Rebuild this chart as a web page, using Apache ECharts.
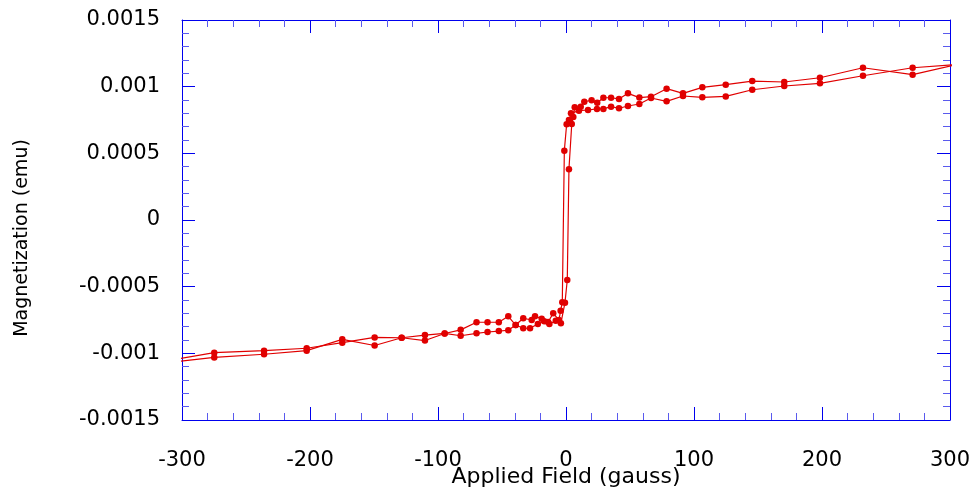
<!DOCTYPE html>
<html>
<head>
<meta charset="utf-8">
<script src="https://cdn.jsdelivr.net/npm/echarts@6/dist/echarts.min.js"></script>
<style>
  html, body { margin: 0; padding: 0; background: #fff; }
  #main { width: 976px; height: 491px; }
</style>
</head>
<body>
<div id="main"></div>
<script>
// descending branch (+300 -> -300 gauss); the end points lie just past the frame and get clipped
const downField = [305, 270.8, 232, 198.4, 170.5, 145.5, 124.8, 106.5, 91.4, 78.6, 66.4, 57.3, 48.4, 41.4, 35.2, 29.2, 24.2, 17.2, 10.1, 3.9, 2.3, 0.5, -1.3, -2.9, -4.2, -5.5, -10, -14, -19, -24.2, -26.8, -33.4, -39.3, -45.1, -52.5, -61.3, -69.9, -82.3, -94.8, -110.2, -128.4, -149.5, -174.8, -202.6, -235.9, -274.8, -305];
const downMoment = [0.001165, 0.001142, 0.001082, 0.001025, 0.001005, 0.000977, 0.000927, 0.00092, 0.00093, 0.00089, 0.000915, 0.00087, 0.000855, 0.000838, 0.00085, 0.000833, 0.000833, 0.000825, 0.00082, 0.0008, 0.00075, 0.000718, 0.00052, -0.000617, -0.00068, -0.00075, -0.0007, -0.000765, -0.00074, -0.000722, -0.00075, -0.000737, -0.000788, -0.000722, -0.000767, -0.000767, -0.000767, -0.000824, -0.000851, -0.000863, -0.000883, -0.000941, -0.000895, -0.00098, -0.001007, -0.001031, -0.001062];

// ascending branch (-300 -> +300 gauss)
const upField = [-305, -274.8, -235.9, -202.6, -174.8, -149.5, -128.4, -110.2, -94.8, -82.3, -69.9, -61.3, -52.5, -45.1, -39.3, -33.4, -28.1, -22, -17, -13, -8, -4, -0.8, 1.0, 2.3, 4.5, 5.7, 6.8, 11.5, 14.3, 20, 24.4, 29.2, 35.2, 41.4, 48.4, 57.3, 66.4, 78.6, 91.4, 106.5, 124.8, 145.5, 170.5, 198.4, 232, 270.8, 305];
const upMoment = [-0.001045, -0.000995, -0.00098, -0.000962, -0.00092, -0.000881, -0.000883, -0.000904, -0.000851, -0.000868, -0.00085, -0.00084, -0.000833, -0.000827, -0.000788, -0.000812, -0.000812, -0.00078, -0.00076, -0.00078, -0.000755, -0.000775, -0.00062, -0.00045, 0.00038, 0.00072, 0.000773, 0.000845, 0.00085, 0.000887, 0.000898, 0.00088, 0.000917, 0.000917, 0.000908, 0.00095, 0.000918, 0.000925, 0.000985, 0.00095, 0.000995, 0.001015, 0.001042, 0.001035, 0.001067, 0.001142, 0.00109, 0.001165];

const xRange = [-300, 300];
const yRange = [-0.0015, 0.0015];

const axisBlue = '#0000ee';
const lineRed = '#e00000';
const font = 'DejaVu Sans';

const zip = (xs, ys) => xs.map((x, i) => [x, ys[i]]);

const chartDom = document.getElementById('main');
const myChart = echarts.init(chartDom, null, { renderer: 'canvas' });

// shared look for the boxed frame: ticks pointing in, blue
const frame = {
    axisLine: { show: true, onZero: false, lineStyle: { color: axisBlue, width: 1 } },
    axisTick: { show: true, inside: true, length: 13, lineStyle: { color: axisBlue, width: 1 } },
    minorTick: { show: true, splitNumber: 5, length: 7, lineStyle: { color: '#5a5aee', width: 1 } },
    splitLine: { show: false },
    minorSplitLine: { show: false }
};

const option = {
    animation: false,
    backgroundColor: '#fff',
    grid: { left: 182, right: 26, top: 20, bottom: 71, containLabel: false, outerBoundsMode: 'none' },
    xAxis: [
        {
            type: 'value', position: 'bottom',
            min: xRange[0], max: xRange[1], interval: 100,
            name: 'Applied Field (gauss)',
            nameLocation: 'middle', nameGap: 46, nameMoveOverlap: false,
            nameTextStyle: { fontFamily: font, fontSize: 22, color: '#000' },
            axisLabel: { margin: 30, fontFamily: font, fontSize: 21, color: '#000' },
            ...frame
        },
        {
            type: 'value', position: 'top',
            min: xRange[0], max: xRange[1], interval: 100,
            axisLabel: { show: false },
            ...frame
        }
    ],
    yAxis: [
        {
            type: 'value', position: 'left',
            min: yRange[0], max: yRange[1], interval: 0.0005,
            name: 'Magnetization (emu)',
            nameLocation: 'middle', nameGap: 150, nameMoveOverlap: false,
            nameTextStyle: { fontFamily: font, fontSize: 19, color: '#000', padding: [0, 36, 0, 0] },
            axisLabel: {
                margin: 22, fontFamily: font, fontSize: 21, color: '#000',
                formatter: v => String(+v.toFixed(4))
            },
            ...frame
        },
        {
            type: 'value', position: 'right',
            min: yRange[0], max: yRange[1], interval: 0.0005,
            axisLabel: { show: false },
            ...frame
        }
    ],
    series: [
        {
            name: 'descending',
            type: 'line',
            data: zip(downField, downMoment),
            symbol: 'circle', symbolSize: 6.5,
            itemStyle: { color: lineRed },
            lineStyle: { color: lineRed, width: 1.2 },
            clip: true
        },
        {
            name: 'ascending',
            type: 'line',
            data: zip(upField, upMoment),
            symbol: 'circle', symbolSize: 6.5,
            itemStyle: { color: lineRed },
            lineStyle: { color: lineRed, width: 1.2 },
            clip: true
        }
    ]
};

myChart.setOption(option);
</script>
</body>
</html>
